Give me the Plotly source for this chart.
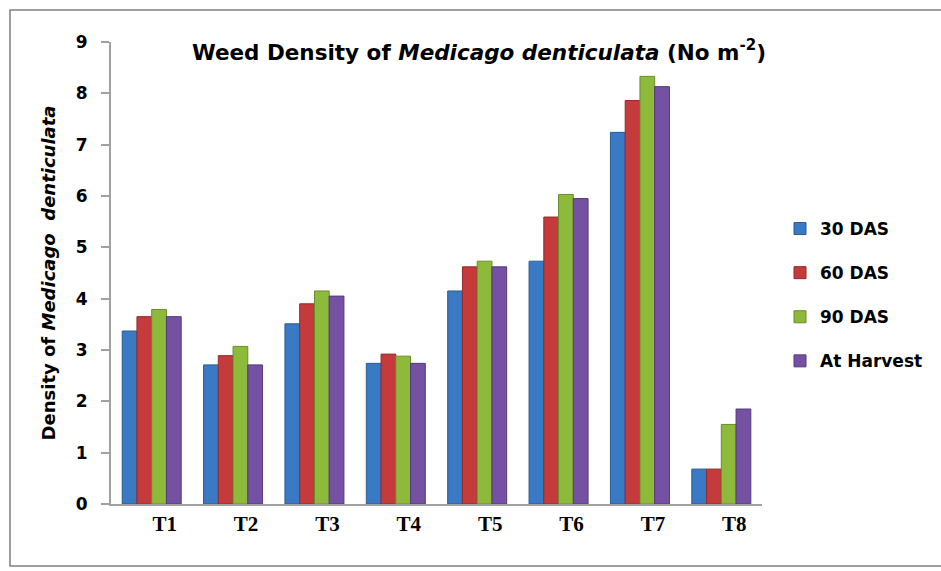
import plotly.graph_objects as go

categories = ["T1", "T2", "T3", "T4", "T5", "T6", "T7", "T8"]
das30 = [3.37, 2.71, 3.51, 2.74, 4.15, 4.73, 7.24, 0.68]
das60 = [3.65, 2.89, 3.90, 2.92, 4.62, 5.59, 7.86, 0.68]
das90 = [3.79, 3.07, 4.15, 2.88, 4.73, 6.03, 8.33, 1.55]
harvest = [3.65, 2.71, 4.05, 2.74, 4.62, 5.95, 8.13, 1.85]
series_names = ["30 DAS", "60 DAS", "90 DAS", "At Harvest"]
colors = ["#3A79C4", "#C53A3A", "#8DBA3B", "#7451A2"]
edge_colors = ["#2A5A96", "#952A2A", "#688D2A", "#543A7C"]

fig = go.Figure()
for i, (name, vals) in enumerate(zip(series_names, [das30, das60, das90, harvest])):
    fig.add_trace(go.Bar(
        x=categories, y=vals, name=name,
        marker=dict(color=colors[i], line=dict(color=edge_colors[i], width=1)),
        legendgroup=name,
    ))

W, H = 941, 571
L, R, T, B = 111, 179, 42, 67
pw, ph = W - L - R, H - T - B

def px2paper_x(x):
    return (x - L) / pw

def px2paper_y(y):
    return (H - B - y) / ph

SANS = "DejaVu Sans"

fig.update_layout(
    width=W, height=H,
    margin=dict(l=L, r=R, t=T, b=B, pad=0),
    paper_bgcolor="white", plot_bgcolor="white",
    barmode="group", bargap=0.275, bargroupgap=0,
    title=dict(
        text="Weed Density of <i>Medicago denticulata</i> (No m<sup>-2</sup>)",
        x=479 / W, xanchor="center", y=1 - 52 / H, yanchor="middle",
        font=dict(family=SANS, size=21.5, color="black", weight="bold"),
    ),
    font=dict(family=SANS, color="black"),
    showlegend=True,
    legend=dict(
        x=px2paper_x(780), xanchor="left", y=px2paper_y(211), yanchor="top",
        traceorder="grouped", tracegroupgap=19,
        font=dict(family=SANS, size=17, color="black", weight="bold"),
        itemwidth=30,
        bgcolor="rgba(0,0,0,0)",
    ),
    xaxis=dict(
        showline=True, linecolor="#A0A0A0", linewidth=2,
        ticks="", showgrid=False,
        ticklabelshift=13, ticklabelstandoff=0,
        tickfont=dict(family="Liberation Serif", size=21, color="black", weight="bold"),
    ),
    yaxis=dict(
        range=[0, 9], dtick=1, showline=True, linecolor="#A0A0A0", linewidth=2,
        ticks="outside", ticklen=8, tickcolor="#A0A0A0", tickwidth=1.5,
        showgrid=False, zeroline=False, ticklabelstandoff=10,
        tickfont=dict(family=SANS, size=17, color="black", weight="bold"),
        title=dict(
            text="Density of <i>Medicago  denticulata</i>",
            font=dict(family=SANS, size=18, color="black", weight="bold"),
            standoff=15,
        ),
    ),
    shapes=[dict(
        type="rect", xref="paper", yref="paper",
        x0=px2paper_x(10), x1=px2paper_x(945),
        y0=px2paper_y(566), y1=px2paper_y(10),
        line=dict(color="#7F7F7F", width=1.5), layer="below",
    )],
)

fig.write_html("out.html")
